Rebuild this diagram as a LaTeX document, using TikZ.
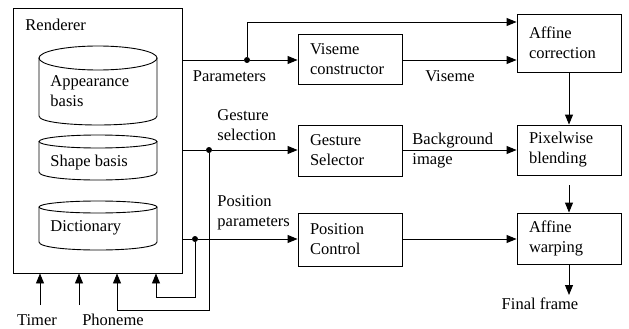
\documentclass[tikz,border=0pt]{standalone}
\usepackage{fontspec}
\setmainfont{Liberation Serif}
\usetikzlibrary{arrows.meta}
\newcommand\myfs{\rmfamily\fontsize{16.5}{20}\selectfont}
\begin{document}
\begin{tikzpicture}[x=1pt,y=-1pt,
  line width=0.9pt,
  arr/.style={-{Triangle[length=10pt,width=8pt]}},
  box/.style={draw, text width=80pt, inner xsep=12pt, inner ysep=0pt, align=left, font=\myfs},
  lbl/.style={inner sep=0pt, align=left, font=\myfs},
  dot/.style={circle, fill, inner sep=0pt, minimum size=6pt}]
\useasboundingbox (0,0) rectangle (629,329);

% Renderer
\node[draw, minimum width=169pt, minimum height=265pt, inner sep=0pt] (rend) at (97.5,140.5) {};
\node[lbl, anchor=west] (rlab) at (25,25) {Renderer};

% cylinders
\draw (39,58) -- (39,116) .. controls (39,128) and (157,128) .. (157,116) -- (157,58);
\draw (98,58) ellipse [x radius=59, y radius=12];
\draw (39,141.5) -- (39,172) .. controls (39,182.7) and (157,182.7) .. (157,172) -- (157,141.5);
\draw (98,141.5) ellipse [x radius=59, y radius=6.5];
\draw (39,207) -- (39,242) .. controls (39,252.7) and (157,252.7) .. (157,242) -- (157,207);
\draw (98,207) ellipse [x radius=59, y radius=6];
\node[lbl, anchor=west] (app) at (50,91) {Appearance\\basis};
\node[lbl, anchor=west] (shp) at (50,163) {Shape basis};
\node[lbl, anchor=west] (dic) at (50,228) {Dictionary};

% boxes
\node[box, minimum height=50pt] (vis) at (350,59) {Viseme\\constructor};
\node[box, minimum height=51pt] (ges) at (350,150.5) {Gesture\\Selector};
\node[box, minimum height=53pt] (pos) at (350,239.5) {Position\\Control};
\node[box, minimum height=58pt] (affc) at (569,43) {Affine\\correction};
\node[box, minimum height=50pt] (pix) at (569,150) {Pixelwise\\blending};
\node[box, minimum height=51pt] (affw) at (569,238.5) {Affine\\warping};

% junctions
\node[dot] (jp) at (247,60) {};
\node[dot] (jg) at (209,150) {};
\node[dot] (jpp) at (195,239) {};

\coordinate (ttop) at (0,22);
\coordinate (fb1) at (117,310);
\coordinate (fb2) at (156,297);
\coordinate (tin) at (40,305);
\coordinate (pin) at (79,305);
\coordinate (bstart) at (569,185);
\coordinate (fend) at (569,295);

% connectors
\draw (rend.east |- jp) -- (jp);
\draw[arr] (jp) -- (vis.west |- jp);
\draw[arr] (jp) -- (jp |- ttop) -- (affc.west |- ttop);
\draw[arr] (vis.east |- jp) -- (affc.west |- jp);
\draw (rend.east |- jg) -- (jg);
\draw[arr] (jg) -- (ges.west |- jg);
\draw (rend.east |- jpp) -- (jpp);
\draw[arr] (jpp) -- (pos.west |- jpp);
\draw[arr] (ges.east |- jg) -- (pix.west |- jg);
\draw[arr] (pos.east |- jpp) -- (affw.west |- jpp);
\draw[arr] (affc.south) -- (pix.north);
\draw[arr] (bstart) -- (affw.north);
\draw[arr] (affw.south) -- (fend);
\draw[arr] (jg) -- (jg |- fb1) -- (fb1) -- (fb1 |- rend.south);
\draw[arr] (jpp) -- (jpp |- fb2) -- (fb2) -- (fb2 |- rend.south);
\draw[arr] (tin) -- (tin |- rend.south);
\draw[arr] (pin) -- (pin |- rend.south);

% labels
\node[lbl] (lpar) at (229.5,76) {Parameters};
\node[lbl, anchor=west] (lges) at (217,125) {Gesture\\selection};
\node[lbl, anchor=west] (lpos) at (217,213) {Position\\parameters};
\node[lbl] (lvis) at (450,76) {Viseme};
\node[lbl, anchor=west] (lbg) at (412,151) {Background\\image};
\node[lbl] (final) at (540,304) {Final frame};
\node[lbl] (timer) at (37,320) {Timer};
\node[lbl] (phon) at (113,320) {Phoneme};
\end{tikzpicture}
\end{document}
